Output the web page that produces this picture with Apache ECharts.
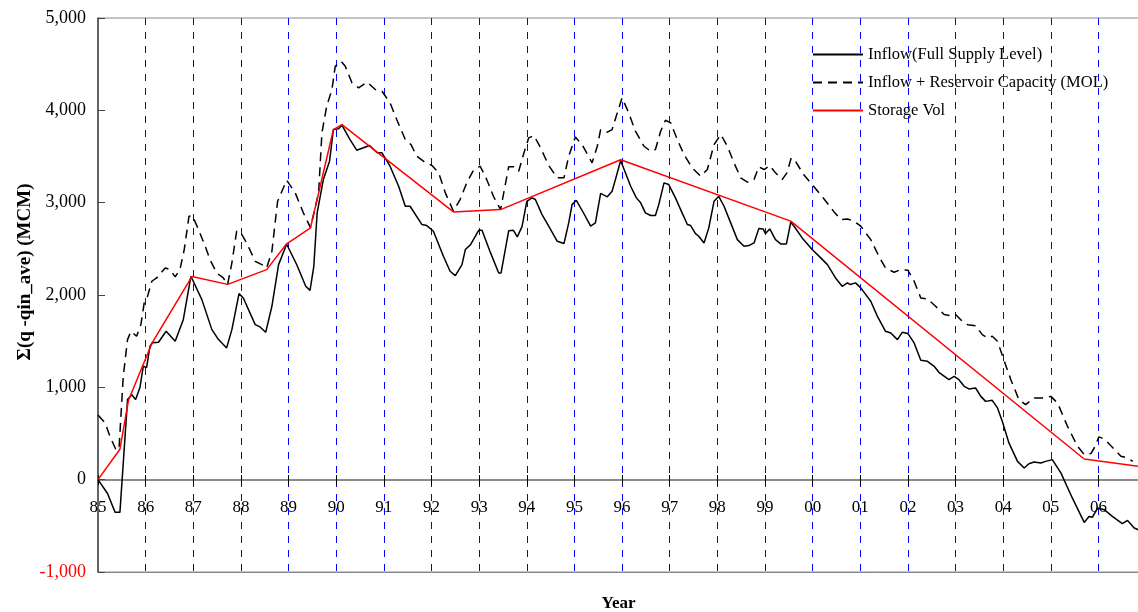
<!DOCTYPE html>
<html>
<head>
<meta charset="utf-8">
<script src="https://cdn.jsdelivr.net/npm/echarts@6/dist/echarts.min.js"></script>
<style>html,body{margin:0;padding:0;background:#fff;}#c{width:1138px;height:612px;}</style>
</head>
<body>
<div id="c"></div>
<script>
// x = years since Jan 1985, y = MCM
const yearTickStart = 85;
const yTicks = [-1000, 0, 1000, 2000, 3000, 4000, 5000];
const seriesNames = ['Inflow(Full Supply Level)', 'Inflow + Reservoir Capacity (MOL)', 'Storage Vol'];

const inflowFSL = [
[0,0],[0.2,-150],[0.36,-354],[0.46,-354],[0.62,867],[0.71,920],[0.79,867],[0.88,997],[0.95,1228],[1.02,1213],[1.09,1444],[1.14,1483],[1.27,1488],[1.43,1607],[1.62,1499],[1.79,1733],[1.95,2203],[2.18,1950],[2.39,1625],[2.53,1517],[2.70,1427],[2.81,1625],[2.96,2015],[3.05,1968],[3.30,1679],[3.40,1654],[3.52,1596],[3.65,1878],[3.79,2329],[3.96,2550],[4.17,2330],[4.36,2094],[4.45,2050],[4.53,2311],[4.60,2890],[4.73,3250],[4.86,3449],[4.94,3792],[5.05,3800],[5.12,3840],[5.29,3683],[5.43,3568],[5.70,3619],[5.86,3540],[5.96,3540],[6.13,3395],[6.31,3178],[6.45,2961],[6.55,2961],[6.80,2763],[6.90,2752],[7.04,2690],[7.25,2419],[7.39,2257],[7.50,2210],[7.64,2329],[7.71,2492],[7.82,2546],[7.99,2701],[8.06,2701],[8.24,2456],[8.41,2239],[8.46,2239],[8.62,2695],[8.72,2701],[8.80,2629],[8.90,2740],[9.00,3015],[9.11,3052],[9.18,3034],[9.32,2871],[9.46,2745],[9.64,2582],[9.78,2557],[9.88,2781],[9.95,2979],[10.04,3026],[10.20,2880],[10.34,2745],[10.44,2781],[10.55,3100],[10.69,3063],[10.79,3124],[10.86,3250],[10.97,3456],[11.18,3178],[11.30,3052],[11.39,2998],[11.49,2890],[11.60,2861],[11.70,2861],[11.77,2979],[11.88,3214],[11.98,3196],[12.12,3052],[12.26,2890],[12.37,2763],[12.44,2752],[12.54,2665],[12.61,2636],[12.72,2564],[12.82,2727],[12.93,3015],[13.03,3069],[13.14,2961],[13.28,2781],[13.42,2600],[13.56,2528],[13.66,2535],[13.77,2564],[13.87,2719],[13.96,2716],[14.01,2665],[14.10,2716],[14.22,2600],[14.33,2553],[14.45,2553],[14.54,2788],[14.61,2745],[14.78,2618],[14.99,2492],[15.17,2402],[15.31,2329],[15.48,2185],[15.62,2094],[15.73,2131],[15.79,2113],[15.90,2131],[16.01,2077],[16.22,1932],[16.36,1769],[16.53,1607],[16.64,1589],[16.78,1517],[16.88,1596],[17.0,1582],[17.13,1481],[17.27,1293],[17.41,1282],[17.55,1228],[17.65,1163],[17.86,1083],[17.97,1119],[18.07,1083],[18.18,1011],[18.28,983],[18.42,993],[18.53,902],[18.63,848],[18.77,859],[18.88,777],[18.98,632],[19.12,398],[19.30,198],[19.44,127],[19.54,173],[19.65,192],[19.79,181],[19.89,198],[20.03,217],[20.21,73],[20.45,-198],[20.70,-463],[20.80,-398],[20.87,-408],[20.98,-307],[21.12,-325],[21.29,-398],[21.50,-477],[21.61,-441],[21.75,-523],[21.85,-545]
];

const inflowMOL = [
[0.0,700],[0.04,686],[0.15,614],[0.25,469],[0.37,332],[0.44,325],[0.53,1119],[0.62,1517],[0.69,1607],[0.81,1553],[0.90,1679],[0.97,1914],[1.04,1986],[1.13,2149],[1.23,2185],[1.41,2293],[1.51,2275],[1.62,2196],[1.72,2275],[1.81,2492],[1.91,2853],[1.98,2860],[2.11,2709],[2.25,2528],[2.35,2383],[2.49,2239],[2.63,2185],[2.72,2113],[2.81,2348],[2.91,2690],[2.98,2690],[3.12,2564],[3.30,2365],[3.44,2329],[3.54,2293],[3.65,2474],[3.77,3015],[3.96,3243],[4.14,3106],[4.31,2890],[4.46,2730],[4.63,3106],[4.70,3756],[4.80,4044],[4.91,4225],[4.98,4478],[5.10,4532],[5.19,4478],[5.33,4298],[5.47,4244],[5.65,4305],[5.82,4225],[5.96,4207],[6.13,4081],[6.27,3900],[6.45,3683],[6.57,3629],[6.69,3503],[6.83,3449],[7.01,3402],[7.15,3323],[7.29,3106],[7.46,2907],[7.60,3034],[7.74,3215],[7.88,3351],[8.02,3395],[8.13,3287],[8.30,3069],[8.45,2925],[8.62,3388],[8.73,3388],[8.83,3340],[8.94,3539],[9.04,3702],[9.15,3727],[9.29,3594],[9.46,3402],[9.64,3269],[9.78,3269],[9.88,3503],[10.02,3710],[10.16,3630],[10.37,3431],[10.48,3611],[10.55,3790],[10.69,3763],[10.79,3792],[10.90,3973],[11.00,4135],[11.14,3973],[11.28,3774],[11.46,3611],[11.60,3557],[11.70,3575],[11.81,3774],[11.91,3893],[12.02,3864],[12.16,3683],[12.30,3521],[12.47,3377],[12.65,3287],[12.79,3359],[12.93,3629],[13.07,3738],[13.21,3611],[13.35,3431],[13.49,3269],[13.63,3222],[13.77,3250],[13.87,3388],[13.98,3359],[14.10,3402],[14.22,3323],[14.36,3250],[14.46,3323],[14.55,3485],[14.64,3449],[14.81,3304],[15.02,3178],[15.24,3040],[15.45,2900],[15.59,2817],[15.73,2824],[15.87,2799],[16.01,2745],[16.22,2600],[16.39,2419],[16.53,2293],[16.71,2246],[16.85,2275],[17.0,2268],[17.13,2149],[17.27,1968],[17.41,1958],[17.58,1878],[17.76,1788],[17.90,1777],[18.0,1788],[18.14,1715],[18.25,1679],[18.42,1668],[18.56,1571],[18.67,1535],[18.77,1553],[18.88,1499],[19.0,1318],[19.16,1083],[19.33,867],[19.47,813],[19.65,885],[19.82,885],[20.0,902],[20.14,831],[20.35,577],[20.56,361],[20.70,271],[20.84,282],[20.91,343],[21.01,463],[21.12,441],[21.26,368],[21.47,253],[21.61,235],[21.72,198]
];

const storageVol = [
[0,0],[0.46,330],[0.64,860],[1.13,1475],[1.97,2200],[2.72,2115],[3.54,2275],[3.96,2555],[4.46,2727],[4.94,3790],[5.12,3846],[7.46,2900],[8.45,2925],[10.97,3465],[14.54,2800],[20.70,224],[21.85,144]
];

const FONT = 'Liberation Serif';
const X_MIN = 0, X_MAX = 21.85;
const chart = echarts.init(document.getElementById('c'));

// plot area: y from -1000 (bottom, px 572) to 5000 (top, px 18) -> zero at px 480
const gridBase = { left: 98, right: -1, outerBoundsMode: 'none', containLabel: false };
const yearFmt = v => Number.isInteger(v) ? String((yearTickStart + v) % 100).padStart(2, '0') : '';

chart.setOption({
  animation: false,
  backgroundColor: '#fff',
  grid: [
    Object.assign({}, gridBase, { top: 18, bottom: 40, show: true, borderColor: '#888', borderWidth: 1 }),
    Object.assign({}, gridBase, { top: 18, bottom: 132 }),   // bottom edge on the zero line
    Object.assign({}, gridBase, { top: 480, bottom: 40 })    // top edge on the zero line
  ],
  legend: {
    orient: 'vertical', left: 807, top: 41, itemWidth: 50, itemHeight: 14, itemGap: 11,
    textStyle: { fontFamily: FONT, fontSize: 16.5, color: '#000' },
    itemStyle: { opacity: 0 },
    data: seriesNames
  },
  xAxis: [
    {
      gridIndex: 0, type: 'value', min: X_MIN, max: X_MAX, interval: 1, position: 'bottom',
      axisLine: { show: true, onZero: false, lineStyle: { color: '#888', width: 1 } },
      axisTick: { show: false }, axisLabel: { show: false },
      splitLine: { show: true, showMinLine: false, showMaxLine: false,
                   lineStyle: { color: '#0000ff', type: [7, 7], width: 1 } },
      name: 'Year', nameLocation: 'middle', nameGap: 23, nameMoveOverlap: false,
      nameTextStyle: { fontFamily: FONT, fontSize: 17, fontWeight: 'bold', color: '#000' }
    },
    {
      gridIndex: 1, type: 'value', min: X_MIN, max: X_MAX, interval: 1, position: 'bottom',
      axisLine: { show: true, onZero: false, lineStyle: { color: '#666', width: 1.5 } },
      axisTick: { show: true, inside: false, length: 5, lineStyle: { color: '#000' } },
      axisLabel: { margin: 19, fontFamily: FONT, fontSize: 17, color: '#000', formatter: yearFmt },
      splitLine: { show: false }
    },
    {
      gridIndex: 2, type: 'value', min: X_MIN, max: X_MAX, interval: 1, position: 'top',
      axisLine: { show: false, onZero: false },
      axisTick: { show: true, inside: false, length: 5, lineStyle: { color: '#000' } },
      axisLabel: { show: false },
      splitLine: { show: false }
    }
  ],
  yAxis: [
    {
      gridIndex: 0, type: 'value', min: yTicks[0], max: yTicks[yTicks.length - 1], interval: 1000,
      axisLine: { show: true, lineStyle: { color: '#444', width: 1.5 } },
      axisTick: { show: true, inside: true, length: 7, lineStyle: { color: '#444' } },
      axisLabel: {
        margin: 12, fontFamily: FONT, fontSize: 18,
        color: v => (Number(v) < 0 ? '#ff0000' : '#000'),
        formatter: v => Number(v).toLocaleString('en-US')
      },
      splitLine: { show: false },
      name: 'Σ(q -qin_ave) (MCM)', nameLocation: 'middle', nameGap: 63, nameRotate: 90,
      nameMoveOverlap: false,
      nameTextStyle: { fontFamily: FONT, fontSize: 19, fontWeight: 'bold', color: '#000',
                       padding: [0, 0, 0, 46] }
    },
    { gridIndex: 1, type: 'value', min: 0, max: 5000, show: false },
    { gridIndex: 2, type: 'value', min: -1000, max: 0, show: false }
  ],
  series: [
    { name: seriesNames[0], type: 'line', data: inflowFSL, showSymbol: false, symbol: 'none',
      lineStyle: { color: '#000', width: 1.5 }, itemStyle: { color: '#000' }, z: 3 },
    { name: seriesNames[1], type: 'line', data: inflowMOL, showSymbol: false, symbol: 'none',
      lineStyle: { color: '#000', width: 1.5, type: [9, 6] }, itemStyle: { color: '#000' }, z: 3 },
    { name: seriesNames[2], type: 'line', data: storageVol, showSymbol: false, symbol: 'none',
      lineStyle: { color: '#ff0000', width: 1.5 }, itemStyle: { color: '#ff0000' }, z: 4 }
  ]
});
</script>
</body>
</html>
